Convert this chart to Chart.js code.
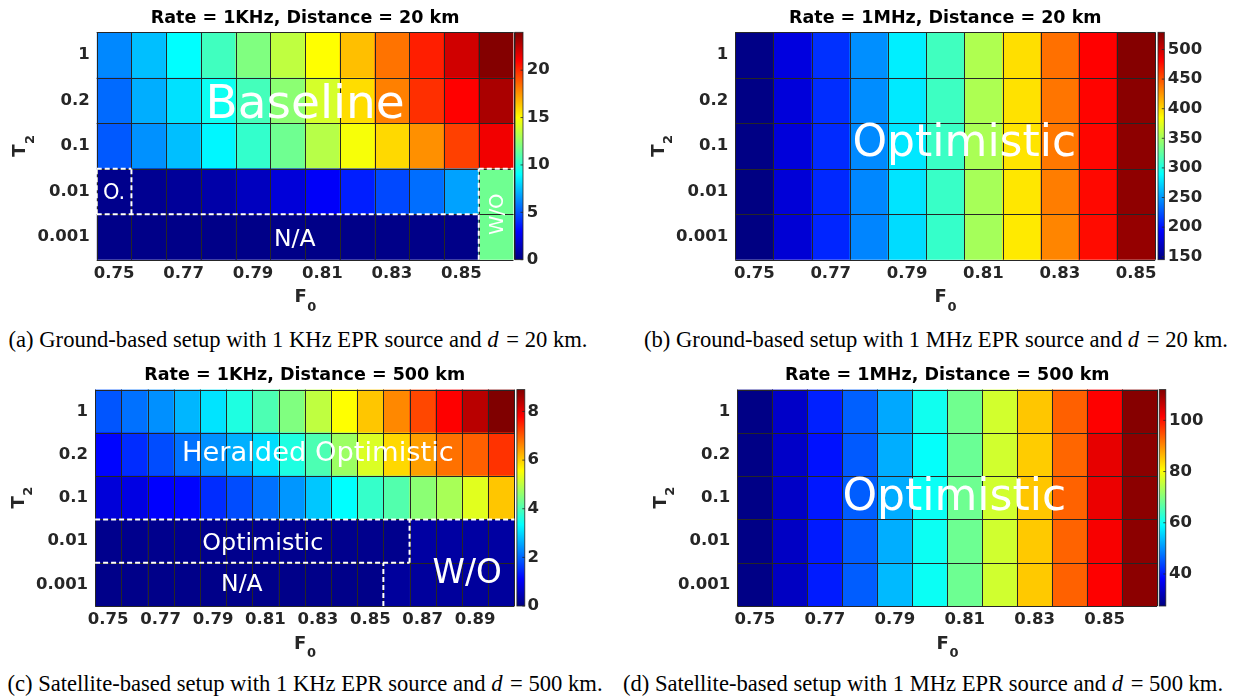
<!DOCTYPE html>
<html>
<head>
<meta charset="utf-8">
<script src="https://cdn.jsdelivr.net/npm/chart.js@4.4.1/dist/chart.umd.min.js"></script>
<style>
  body { margin: 0; background: #fff; }
  #fig { position: relative; width: 1234px; height: 700px; overflow: hidden; }
  canvas { position: absolute; }
  .cap { position: absolute; width: 800px; text-align: center; white-space: nowrap; color: #000;
         font-family: "Liberation Serif", "Times New Roman", serif; font-size: 22.6px; line-height: 1; }
  .cap i { margin-right: 2px; }
</style>
</head>
<body>
<div id="fig">
  <canvas id="chartA" width="617" height="320" style="left:0;top:0"></canvas>
  <canvas id="chartB" width="617" height="320" style="left:617px;top:0"></canvas>
  <canvas id="chartC" width="617" height="310" style="left:0;top:355px"></canvas>
  <canvas id="chartD" width="617" height="310" style="left:617px;top:355px"></canvas>
  <div class="cap" style="left:-102px;top:329px">(a) Ground-based setup with 1 KHz EPR source and <i>d</i> = 20 km.</div>
  <div class="cap" style="left:536px;top:329px">(b) Ground-based setup with 1 MHz EPR source and <i>d</i> = 20 km.</div>
  <div class="cap" style="left:-95px;top:673px">(c) Satellite-based setup with 1 KHz EPR source and <i>d</i> = 500 km.</div>
  <div class="cap" style="left:523px;top:673px">(d) Satellite-based setup with 1 MHz EPR source and <i>d</i> = 500 km.</div>
</div>
<script>
// rows of every heatmap, top to bottom
const T2 = ['1', '0.2', '0.1', '0.01', '0.001'];

// F0 columns
const F0_A = ['0.75', '0.76', '0.77', '0.78', '0.79', '0.80', '0.81', '0.82', '0.83', '0.84', '0.85', '0.86'];
const F0_B = ['0.75', '0.76', '0.77', '0.78', '0.79', '0.80', '0.81', '0.82', '0.83', '0.84', '0.85'];
const F0_C = ['0.75', '0.76', '0.77', '0.78', '0.79', '0.80', '0.81', '0.82', '0.83', '0.84', '0.85', '0.86', '0.87', '0.88', '0.89', '0.90'];
const F0_D = ['0.75', '0.76', '0.77', '0.78', '0.79', '0.80', '0.81', '0.82', '0.83', '0.84', '0.85', '0.86'];

// rates (one row per T2 value)
const rateA = [
    [6.2, 7.5, 9.0, 10.5, 12.0, 13.5, 15.0, 16.5, 18.3, 20.3, 22.1, 23.9],
    [5.5, 7.1, 8.3, 9.3, 10.6, 12.3, 14.0, 15.8, 18.0, 19.9, 21.0, 23.0],
    [5.1, 6.4, 7.5, 8.8, 10.2, 11.6, 13.3, 14.8, 15.9, 17.6, 19.5, 21.3],
    [0.3, 0.4, 0.6, 0.95, 1.5, 2.1, 2.85, 3.7, 4.7, 5.6, 6.8, 11.6],
    [0.2, 0.2, 0.2, 0.2, 0.2, 0.2, 0.2, 0.2, 0.2, 0.2, 0.2, 11.6]
];
const rateB = [
    [148, 181, 211, 247, 283, 313, 355, 397, 439, 481, 527],
    [147, 179, 210, 246, 281, 312, 354, 396, 437, 480, 525],
    [147, 179, 209, 245, 280, 311, 353, 395, 436, 479, 524],
    [146, 178, 208, 244, 279, 310, 352, 394, 434, 478, 523],
    [146, 177, 207, 243, 276, 309, 351, 393, 431, 477, 521]
];
const rateC = [
    [1.85, 2.1, 2.37, 2.7, 3.1, 3.6, 4.0, 4.45, 5.0, 5.56, 6.06, 6.6, 7.17, 7.8, 8.4, 8.9],
    [1.15, 1.5, 1.78, 2.1, 2.37, 2.65, 3.05, 3.6, 4.0, 4.7, 5.25, 5.9, 6.4, 6.8, 6.95, 7.35],
    [0.78, 0.87, 1.1, 1.15, 1.5, 1.78, 2.1, 2.42, 2.85, 3.34, 3.8, 4.05, 4.55, 4.8, 5.3, 6.06],
    [0.12, 0.12, 0.12, 0.12, 0.12, 0.12, 0.12, 0.12, 0.12, 0.12, 0.12, 0.12, 0.3, 0.3, 0.3, 0.3],
    [0.08, 0.08, 0.08, 0.08, 0.08, 0.08, 0.08, 0.08, 0.08, 0.08, 0.08, 0.25, 0.25, 0.25, 0.25, 0.25]
];
const rateD = [
    [28, 33.5, 40.7, 46, 52, 60.5, 68.5, 76.6, 85, 93.5, 101.5, 111.5],
    [28, 33.5, 39.5, 45.5, 52.5, 59.5, 68, 76.5, 84.5, 93, 103.4, 111],
    [28, 33.3, 40, 45.8, 52.3, 60, 68.3, 76.5, 85, 93.3, 103, 111],
    [28, 33.2, 40.2, 45.8, 52.5, 60.2, 68.2, 76.4, 84.8, 93.2, 102, 111],
    [28, 33, 40.3, 45.8, 53.5, 60, 68.2, 76.4, 84.8, 93.4, 101.5, 111]
];

// colorbar limits and tick step
const cbA = [0, 24, 5];
const cbB = [145, 529, 50];
const cbC = [0, 8.9, 2];
const cbD = [27.5, 112, 20];

// MATLAB jet
function jet(t) {
    t = Math.max(0, Math.min(1, t));
    const c = v => Math.round(255 * Math.max(0, Math.min(1, 1.5 - Math.abs(v))));
    return `rgb(${c(4 * t - 3)},${c(4 * t - 2)},${c(4 * t - 1)})`;
}

const tickColor = '#262626';
const tickFont = { family: 'DejaVu Sans', weight: 'bold', size: 16.5 };

function drawSub(ctx, main, sub, cx, cy, rot) {
    ctx.save();
    ctx.translate(cx, cy);
    if (rot) ctx.rotate(rot);
    ctx.fillStyle = tickColor;
    ctx.textAlign = 'left';
    ctx.textBaseline = 'alphabetic';
    ctx.font = 'bold 18px "DejaVu Sans"';
    const w1 = ctx.measureText(main).width;
    ctx.font = 'bold 13px "DejaVu Sans"';
    const w2 = ctx.measureText(sub).width;
    const x0 = -(w1 + w2) / 2;
    ctx.font = 'bold 18px "DejaVu Sans"';
    ctx.fillText(main, x0, 6.6);
    ctx.font = 'bold 13px "DejaVu Sans"';
    ctx.fillText(sub, x0 + w1 + 0.5, 15);
    ctx.restore();
}

// grid, dashed region outlines, region names, colorbar strip, axis titles
function decor(p) {
    return {
        id: 'decor',
        afterDatasetsDraw(chart) {
            const { ctx, chartArea: a, scales: { x, y } } = chart;
            const colX = k => x.getPixelForValue(k - 0.5);
            ctx.save();
            ctx.strokeStyle = '#262626';
            ctx.lineWidth = 1;
            ctx.beginPath();
            for (let k = 0; k <= p.labels.length; k++) {
                const px = Math.round(colX(k)) + 0.5;
                ctx.moveTo(px, a.top); ctx.lineTo(px, a.bottom);
            }
            for (let r = 0; r <= T2.length; r++) {
                const py = Math.round(y.getPixelForValue(r)) + 0.5;
                ctx.moveTo(a.left, py); ctx.lineTo(a.right, py);
            }
            ctx.stroke();

            ctx.strokeStyle = '#fff';
            ctx.lineWidth = 2;
            ctx.setLineDash([5, 3]);
            (p.dashes || []).forEach(([k0, v0, k1, v1]) => {
                ctx.beginPath();
                ctx.moveTo(colX(k0), y.getPixelForValue(v0));
                ctx.lineTo(colX(k1), y.getPixelForValue(v1));
                ctx.stroke();
            });
            ctx.setLineDash([]);

            ctx.fillStyle = '#fff';
            ctx.textAlign = 'center';
            ctx.textBaseline = 'alphabetic';
            (p.notes || []).forEach(n => {
                ctx.save();
                ctx.translate(x.getPixelForValue(n.x), y.getPixelForValue(n.y));
                if (n.rot) ctx.rotate(n.rot);
                ctx.font = n.size + 'px "DejaVu Sans"';
                ctx.fillText(n.text, 0, 0.365 * n.size);
                ctx.restore();
            });
            ctx.restore();
        },
        afterDraw(chart) {
            const { ctx, chartArea: a } = chart;
            const cb = chart.scales.cb;
            const x0 = a.right + p.cbGap;
            ctx.save();
            const g = ctx.createLinearGradient(0, cb.bottom, 0, cb.top);
            for (let i = 0; i <= 8; i++) g.addColorStop(i / 8, jet(i / 8));
            ctx.fillStyle = g;
            ctx.fillRect(x0, cb.top, p.cbWidth, cb.bottom - cb.top);
            ctx.strokeStyle = '#262626';
            ctx.lineWidth = 0.8;
            ctx.strokeRect(x0, cb.top, p.cbWidth, cb.bottom - cb.top);
            ctx.beginPath();
            cb.ticks.forEach(t => {
                const py = cb.getPixelForValue(t.value);
                ctx.moveTo(x0 + p.cbWidth - 2.5, py); ctx.lineTo(x0 + p.cbWidth, py);
            });
            ctx.stroke();
            ctx.restore();

            drawSub(ctx, 'F', '0', (a.left + a.right) / 2, a.bottom + 36, 0);
            drawSub(ctx, 'T', '2', a.left - 78, (a.top + a.bottom) / 2, -Math.PI / 2);
        }
    };
}

function makePanel(id, p) {
    const datasets = [];
    for (let r = T2.length - 1; r >= 0; r--) {
        datasets.push({
            label: 'T2 = ' + T2[r],
            data: p.labels.map(() => 1),
            backgroundColor: p.rates[r].map(v => jet((v - p.cb[0]) / (p.cb[1] - p.cb[0]))),
            borderWidth: 0,
            barPercentage: 1,
            categoryPercentage: 1
        });
    }
    return new Chart(document.getElementById(id).getContext('2d'), {
        type: 'bar',
        data: { labels: p.labels, datasets },
        options: {
            responsive: false,
            animation: false,
            events: [],
            layout: { padding: 0 },
            plugins: {
                legend: { display: false },
                tooltip: { enabled: false },
                title: {
                    display: true,
                    text: p.title,
                    color: '#000',
                    fullSize: false,
                    font: { family: 'DejaVu Sans', weight: 'bold', size: 17.5, lineHeight: 1.2 },
                    padding: { top: p.titlePad[0], bottom: p.titlePad[1] }
                }
            },
            scales: {
                x: {
                    stacked: true,
                    grid: { display: false, drawTicks: false },
                    border: { display: false },
                    ticks: {
                        autoSkip: false, maxRotation: 0, minRotation: 0, padding: 4,
                        color: tickColor, font: tickFont,
                        callback: (v, i) => (i % 2 === 0 ? p.labels[i] : '')
                    },
                    afterFit: s => { s.height = p.xHeight; }
                },
                y: {
                    stacked: true,
                    min: 0,
                    max: T2.length,
                    grid: { display: false, drawTicks: false },
                    border: { display: false },
                    afterBuildTicks: s => { s.ticks = [0.5, 1.5, 2.5, 3.5, 4.5].map(v => ({ value: v })); },
                    ticks: {
                        padding: 7, color: tickColor, font: tickFont,
                        callback: v => T2[T2.length - 1 - Math.floor(v)]
                    },
                    afterFit: s => { s.width = p.yWidth; }
                },
                cb: {
                    type: 'linear',
                    position: 'right',
                    min: p.cb[0],
                    max: p.cb[1],
                    grid: { display: false, drawTicks: false },
                    border: { display: false },
                    ticks: { stepSize: p.cb[2], includeBounds: false, padding: p.cbLabelPad, color: tickColor, font: tickFont },
                    afterFit: s => { s.width = p.cbAxisWidth; }
                }
            }
        },
        plugins: [decor(p)]
    });
}

makePanel('chartA', {
    labels: F0_A, rates: rateA, cb: cbA,
    title: 'Rate = 1KHz, Distance = 20 km',
    titlePad: [7.6, 3.7], xHeight: 60.3, yWidth: 96.7, cbAxisWidth: 103.5,
    cbGap: 1.5, cbWidth: 8, cbLabelPad: 13.2,
    dashes: [[0, 2, 1, 2], [0, 1, 0, 2], [1, 1, 1, 2], [0, 1, 11, 1], [11, 0, 11, 2], [11, 2, 12, 2]],
    notes: [
        { text: 'Baseline', x: 5.5, y: 3.5, size: 47 },
        { text: 'O.', x: 0, y: 1.5, size: 21 },
        { text: 'N/A', x: 5.2, y: 0.5, size: 23.5 },
        { text: 'W/O', x: 11, y: 1.0, size: 19.7, rot: -Math.PI / 2 }
    ]
});

makePanel('chartB', {
    labels: F0_B, rates: rateB, cb: cbB,
    title: 'Rate = 1MHz, Distance = 20 km',
    titlePad: [7.6, 3.7], xHeight: 60.3, yWidth: 118.3, cbAxisWidth: 78.8,
    cbGap: 2.8, cbWidth: 6.3, cbLabelPad: 12.6,
    notes: [{ text: 'Optimistic', x: 5.5, y: 2.64, size: 44 }]
});

makePanel('chartC', {
    labels: F0_C, rates: rateC, cb: cbC,
    title: 'Rate = 1KHz, Distance = 500 km',
    titlePad: [9.9, 3.7], xHeight: 59, yWidth: 95.1, cbAxisWidth: 102.6,
    cbGap: 2.5, cbWidth: 7.9, cbLabelPad: 13.2,
    dashes: [[0, 2, 16, 2], [12, 1, 12, 2], [0, 1, 12, 1], [11, 0, 11, 1]],
    notes: [
        { text: 'Heralded Optimistic', x: 8.0, y: 3.58, size: 27.3 },
        { text: 'Optimistic', x: 5.9, y: 1.5, size: 23.8 },
        { text: 'N/A', x: 5.1, y: 0.54, size: 23.5 },
        { text: 'W/O', x: 13.7, y: 0.8, size: 32.8 }
    ]
});

makePanel('chartD', {
    labels: F0_D, rates: rateD, cb: cbD,
    title: 'Rate = 1MHz, Distance = 500 km',
    titlePad: [9.9, 3.7], xHeight: 59, yWidth: 120.3, cbAxisWidth: 76.8,
    cbGap: 2, cbWidth: 6.6, cbLabelPad: 11.8,
    notes: [{ text: 'Optimistic', x: 5.7, y: 2.6, size: 44 }]
});
</script>
</body>
</html>
